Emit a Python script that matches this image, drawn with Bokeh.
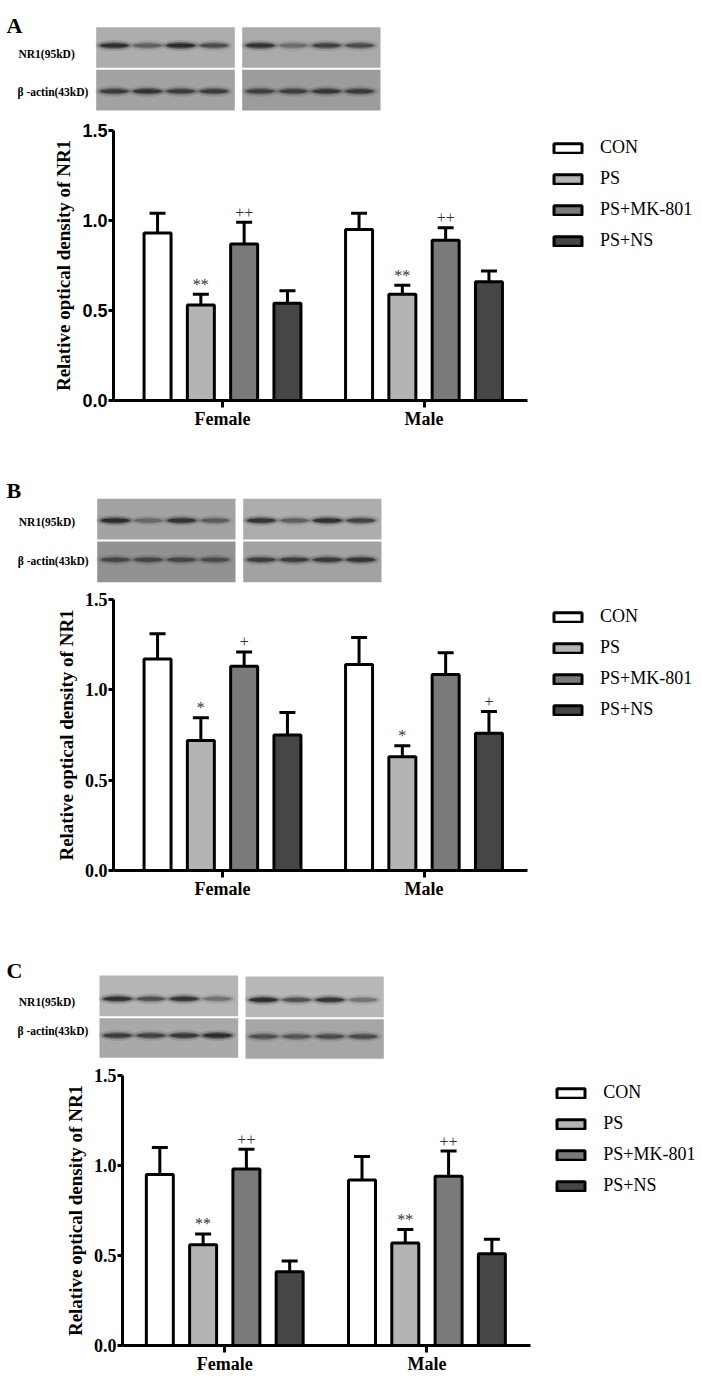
from bokeh.plotting import figure
from bokeh.models import (ColumnDataSource, Range1d, FixedTicker, NumeralTickFormatter,
                          Whisker, TeeHead)
from bokeh.layouts import column
from bokeh.core.properties import value
from bokeh.embed import file_html
from bokeh.resources import INLINE

# ---------------- data ----------------
treatments = ["CON", "PS", "PS+MK-801", "PS+NS"]
groups = ["Female", "Male"]
y_ticks = [0.0, 0.5, 1.0, 1.5]
y_title = "Relative optical density of NR1"
blot_rows = ["NR1(95kD)", "\u03b2 -actin(43kD)"]
panel_letters = ["A", "B", "C"]

# Panel A
a_female_mean = [0.93, 0.53, 0.87, 0.54]
a_female_sem = [0.11, 0.06, 0.12, 0.07]
a_male_mean = [0.95, 0.59, 0.89, 0.66]
a_male_sem = [0.09, 0.05, 0.07, 0.06]
a_female_marks = ["", "**", "++", ""]
a_male_marks = ["", "**", "++", ""]

# Panel B
b_female_mean = [1.17, 0.72, 1.13, 0.75]
b_female_sem = [0.14, 0.125, 0.08, 0.125]
b_male_mean = [1.14, 0.63, 1.085, 0.76]
b_male_sem = [0.15, 0.06, 0.12, 0.12]
b_female_marks = ["", "*", "+", ""]
b_male_marks = ["", "*", "", "+"]

# Panel C
c_female_mean = [0.95, 0.56, 0.98, 0.41]
c_female_sem = [0.15, 0.06, 0.11, 0.06]
c_male_mean = [0.92, 0.57, 0.94, 0.51]
c_male_sem = [0.13, 0.075, 0.14, 0.08]
c_female_marks = ["", "**", "++", ""]
c_male_marks = ["", "**", "++", ""]

# Western blot band intensities (0-1), lanes CON, PS, PS+MK-801, PS+NS
a_nr1_female = [0.9, 0.45, 0.95, 0.6]
a_nr1_male = [0.85, 0.35, 0.7, 0.6]
a_actin_female = [0.75, 0.85, 0.75, 0.75]
a_actin_male = [0.7, 0.7, 0.8, 0.75]
b_nr1_female = [0.95, 0.35, 0.85, 0.45]
b_nr1_male = [0.85, 0.45, 0.9, 0.7]
b_actin_female = [0.6, 0.6, 0.6, 0.55]
b_actin_male = [0.75, 0.75, 0.8, 0.85]
c_nr1_female = [0.9, 0.6, 0.85, 0.35]
c_nr1_male = [0.95, 0.6, 0.85, 0.35]
c_actin_female = [0.75, 0.7, 0.8, 0.95]
c_actin_male = [0.55, 0.5, 0.6, 0.6]

# ---------------- styles ----------------
fills = ["#ffffff", "#b4b4b4", "#7a7a7a", "#464646"]
SERIF = "Liberation Serif"
SANS = "Liberation Sans"
W = 702


def make_blot(height, letter, letter_y, label_pos, boxes, rel_y, nr1, actin):
    p = figure(width=W, height=height, x_range=Range1d(0, W), y_range=Range1d(height, 0),
               output_backend="svg", toolbar_location=None, tools="",
               x_axis_location=None, y_axis_location=None, frame_align=False,
               min_border=0, min_border_left=0, min_border_right=0,
               min_border_top=0, min_border_bottom=0)
    p.outline_line_color = None
    p.grid.visible = False
    lanes = [0.13, 0.37, 0.61, 0.85]
    for bi, (l, r, t, d, b, cu, cl) in enumerate(boxes):
        p.quad(left=[l], right=[r], top=[t], bottom=[d - 1], fill_color=cu, line_color=None)
        p.quad(left=[l], right=[r], top=[d + 1], bottom=[b], fill_color=cl, line_color=None)
        for row, vals, yc in ((0, nr1[bi], t + rel_y[0] * (d - t)),
                              (1, actin[bi], d + rel_y[1] * (b - d))):
            xs = [l + f * (r - l) for f in lanes]
            ys = [yc] * 4
            bw = 0.2 * (r - l)
            p.ellipse(x=xs, y=ys, width=bw + 10, height=11, fill_color="#202020",
                      fill_alpha=[0.18 * v for v in vals], line_color=None)
            p.ellipse(x=xs, y=ys, width=bw + 4, height=7, fill_color="#202020",
                      fill_alpha=[0.45 * v for v in vals], line_color=None)
            p.ellipse(x=xs, y=ys, width=bw, height=4, fill_color="#1a1a1a",
                      fill_alpha=[0.8 * v for v in vals], line_color=None)
    p.text(x=[6], y=[letter_y], text=[letter], text_font=value(SERIF),
           text_font_style="bold", text_font_size="22px", text_baseline="alphabetic",
           text_align="left", text_color="black")
    p.text(x=[label_pos[0][0], label_pos[1][0]], y=[label_pos[0][1], label_pos[1][1]],
           text=blot_rows, text_font=value(SERIF), text_font_style="bold",
           text_font_size="11.5px", text_baseline="middle", text_align="left",
           text_color="black")
    return p


def make_chart(fmean, fsem, mmean, msem, fmarks, mmarks, height, top, frame_h,
               left_page, centers, axis_end, tick_font, legend_glyph_x):
    ppu = centers[1] - centers[0]
    x0 = (left_page - centers[0]) / ppu
    x1 = x0 + (W - left_page) / ppu
    bound_end = (axis_end - centers[0]) / ppu
    p = figure(width=W, height=height, x_range=Range1d(x0, x1), y_range=Range1d(0, 1.5),
               output_backend="svg", toolbar_location=None, tools="", frame_align=False,
               min_border_left=int(round(left_page)), min_border_right=0,
               min_border_top=top, min_border_bottom=height - top - frame_h)
    p.outline_line_color = None
    p.grid.visible = False

    offsets = [(i - 1.5) * 43.3 / ppu for i in range(4)]
    bw = 27.0 / ppu
    for i, t in enumerate(treatments):
        xs = [g + offsets[i] for g in range(len(groups))]
        tops = [fmean[i], mmean[i]]
        upp = [fmean[i] + fsem[i], mmean[i] + msem[i]]
        src = ColumnDataSource(dict(x=xs, top=tops, upper=upp, mark=[fmarks[i], mmarks[i]]))
        p.vbar(x="x", top="top", bottom=0, width=bw, source=src, fill_color=fills[i],
               line_color="black", line_width=3, legend_label=t)
        wh = Whisker(source=src, base="x", lower="top", upper="upper", dimension="height",
                     line_color="black", line_width=3, level="glyph",
                     upper_head=TeeHead(size=16, line_width=3, line_color="black"),
                     lower_head=None)
        p.add_layout(wh)
        p.text(x="x", y="upper", text="mark", source=src, text_align="center",
               text_baseline="middle", y_offset=-10, text_font=value(SERIF),
               text_font_size="16px", text_color="#333333")

    xa = p.xaxis[0]
    xa.ticker = FixedTicker(ticks=list(range(len(groups))))
    xa.major_label_overrides = {i: g for i, g in enumerate(groups)}
    xa.bounds = (x0, bound_end)
    xa.axis_line_width = 3
    xa.major_tick_line_width = 3
    xa.major_tick_out = 7
    xa.major_tick_in = 0
    xa.minor_tick_line_color = None
    xa.major_label_standoff = 1
    xa.major_label_text_font = SERIF
    xa.major_label_text_font_style = "bold"
    xa.major_label_text_font_size = "18px"
    xa.major_label_text_color = "black"

    ya = p.yaxis[0]
    ya.ticker = FixedTicker(ticks=y_ticks)
    ya.formatter = NumeralTickFormatter(format="0.0")
    ya.axis_line_width = 3
    ya.major_tick_line_width = 3
    ya.major_tick_out = 5
    ya.major_tick_in = 0
    ya.minor_tick_line_color = None
    ya.major_label_standoff = 1
    ya.major_label_text_font = tick_font
    ya.major_label_text_font_style = "bold"
    ya.major_label_text_font_size = "18px"
    ya.major_label_text_color = "black"
    ya.axis_label = y_title
    ya.axis_label_text_font = SERIF
    ya.axis_label_text_font_style = "bold"
    ya.axis_label_text_font_size = "19px"
    ya.axis_label_text_color = "black"
    ya.axis_label_standoff = 5

    ih, sp = 21, 10
    lg = p.legend[0]
    H = 4 * ih + 3 * sp
    lg.location = (legend_glyph_x - left_page, frame_h - (17.5 - ih / 2) - H)
    lg.padding = 0
    lg.margin = 0
    lg.spacing = sp
    lg.label_height = ih
    lg.glyph_height = 12
    lg.glyph_width = 35
    lg.label_standoff = 15
    lg.border_line_color = None
    lg.background_fill_alpha = 0
    lg.label_text_font = SERIF
    lg.label_text_font_size = "18px"
    lg.label_text_color = "black"
    return p


blot_a = make_blot(115, panel_letters[0], 25, [(18, 53), (17, 91.7)],
                   [(95.7, 234.3, 26.7, 68.3, 110, "#adadad", "#a2a2a2"),
                    (241.7, 380, 26.7, 68.3, 110, "#aaaaaa", "#9c9c9c")],
                   (0.44, 0.54), [a_nr1_female, a_nr1_male], [a_actin_female, a_actin_male])
chart_a = make_chart(a_female_mean, a_female_sem, a_male_mean, a_male_sem,
                     a_female_marks, a_male_marks, 355, 15, 270, 113, (222, 423.5), 527,
                     SANS, 550)
blot_b = make_blot(115, panel_letters[1], 20, [(18.3, 51.7), (17.3, 90)],
                   [(96.7, 235, 28.3, 70, 111.7, "#a3a3a3", "#929292"),
                    (242.7, 381, 28.3, 70, 111.7, "#adadad", "#a2a2a2")],
                   (0.52, 0.46), [b_nr1_female, b_nr1_male], [b_actin_female, b_actin_male])
chart_b = make_chart(b_female_mean, b_female_sem, b_male_mean, b_male_sem,
                     b_female_marks, b_male_marks, 355, 14, 271, 113, (222, 423.5), 527,
                     SERIF, 550)
blot_c = make_blot(122, panel_letters[2], 30, [(18.3, 61.7), (17, 90)],
                   [(99, 237.7, 35, 76.7, 117.3, "#b5b5b5", "#a9a9a9"),
                    (245, 383.3, 36, 77.7, 118.3, "#b8b8b8", "#a6a6a6")],
                   (0.56, 0.45), [c_nr1_female, c_nr1_male], [c_actin_female, c_actin_male])
chart_c = make_chart(c_female_mean, c_female_sem, c_male_mean, c_male_sem,
                     c_female_marks, c_male_marks, 316, 13, 270, 121.7, (224, 426.3), 530,
                     SERIF, 553)

layout = column(blot_a, chart_a, blot_b, chart_b, blot_c, chart_c, spacing=0)
open("out.html", "w").write(file_html(layout, INLINE, title="NR1"))
